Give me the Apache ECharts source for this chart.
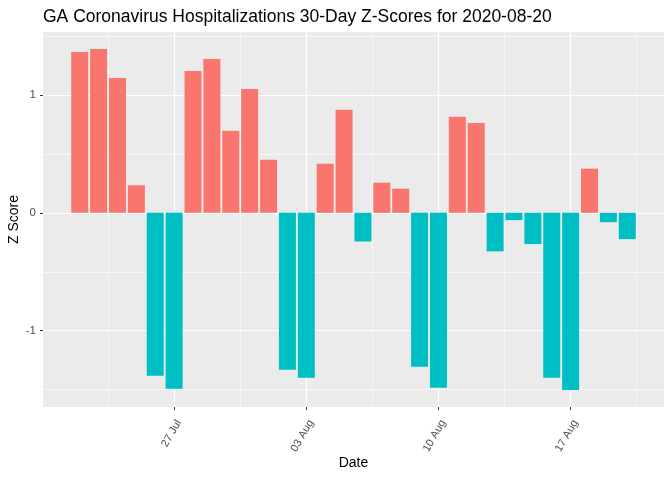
<!DOCTYPE html>
<html>
<head>
<meta charset="utf-8">
<script src="https://cdn.jsdelivr.net/npm/echarts@6/dist/echarts.min.js"></script>
<style>html,body{margin:0;padding:0;background:#fff;}#c{width:672px;height:480px;}</style>
</head>
<body>
<div id="c"></div>
<script>
// Dates and z-scores
const dates = ['2020-07-22','2020-07-23','2020-07-24','2020-07-25','2020-07-26','2020-07-27','2020-07-28','2020-07-29','2020-07-30','2020-07-31',
  '2020-08-01','2020-08-02','2020-08-03','2020-08-04','2020-08-05','2020-08-06','2020-08-07','2020-08-08','2020-08-09','2020-08-10',
  '2020-08-11','2020-08-12','2020-08-13','2020-08-14','2020-08-15','2020-08-16','2020-08-17','2020-08-18','2020-08-19','2020-08-20'];
const zScores = [1.365,1.39,1.145,0.234,-1.382,-1.492,1.204,1.305,0.696,1.052,
  0.451,-1.331,-1.399,0.417,0.874,-0.243,0.256,0.205,-1.306,-1.484,
  0.815,0.763,-0.327,-0.062,-0.265,-1.399,-1.503,0.375,-0.079,-0.223];
const xTickDates = ['2020-07-27','2020-08-03','2020-08-10','2020-08-17'];
const xTickLabels = ['27 Jul','03 Aug','10 Aug','17 Aug'];
const yMajor = [-1, 0, 1];
const yMinor = [-1.5, -0.5, 0.5, 1.5];

const ref = Date.UTC(2020, 6, 27);
const dayOf = s => { const p = s.split('-'); return (Date.UTC(+p[0], +p[1]-1, +p[2]) - ref) / 86400000; };
const xDays = dates.map(dayOf);
const xMajor = xTickDates.map(dayOf);
const xMinor = [];
for (let i = 0; i <= xMajor.length; i++) xMinor.push((i === 0 ? xMajor[0] - 7 : xMajor[i-1]) + 3.5);

const span = xDays[xDays.length-1] - xDays[0] + 0.9;
const xMin = xDays[0] - 0.45 - 0.05 * span;
const xMax = xDays[xDays.length-1] + 0.45 + 0.05 * span;
const yLo = Math.min(...zScores), yHi = Math.max(...zScores);
const yMin = yLo - 0.05 * (yHi - yLo), yMax = yHi + 0.05 * (yHi - yLo);

const font = 'Liberation Sans, Arial, sans-serif';
const chart = echarts.init(document.getElementById('c'), null, {renderer: 'canvas'});
chart.setOption({
  animation: false,
  backgroundColor: '#ffffff',
  title: {
    text: 'GA Coronavirus Hospitalizations 30-Day Z-Scores for 2020-08-20',
    left: 38, top: 3,
    textStyle: {fontFamily: font, fontSize: 17.5, fontWeight: 'normal', color: '#000'}
  },
  grid: {left: 43, right: 8, top: 32, bottom: 73, show: true, backgroundColor: '#EBEBEB', borderWidth: 0,
    containLabel: false, outerBoundsMode: 'none'},
  xAxis: [{
    type: 'value', min: xMin, max: xMax,
    name: 'Date', nameLocation: 'middle', nameGap: 49, nameMoveOverlap: false,
    nameTextStyle: {fontFamily: font, fontSize: 14, color: '#000'},
    axisLine: {show: false, onZero: false},
    axisTick: {show: true, customValues: xMajor, length: 3, lineStyle: {color: '#333', width: 1}},
    axisLabel: {customValues: xMajor, rotate: 60, margin: 11, verticalAlign: 'top', color: '#4D4D4D', fontFamily: font, fontSize: 11,
      formatter: v => { const i = xMajor.indexOf(v); return i >= 0 ? xTickLabels[i] : ''; }},
    splitLine: {show: true, lineStyle: {color: '#fff', width: 1.2}}
  }, {
    type: 'value', min: xMin, max: xMax, position: 'bottom',
    axisLine: {show: false, onZero: false}, axisLabel: {show: false},
    axisTick: {show: false, customValues: xMinor},
    splitLine: {show: true, lineStyle: {color: '#fff', width: 0.6}}
  }],
  yAxis: [{
    type: 'value', min: yMin, max: yMax,
    name: 'Z Score', nameLocation: 'middle', nameGap: 22, nameRotate: 90, nameMoveOverlap: false,
    nameTextStyle: {fontFamily: font, fontSize: 14, color: '#000'},
    axisLine: {show: false, onZero: false},
    axisTick: {show: true, customValues: yMajor, length: 3, lineStyle: {color: '#333', width: 1}},
    axisLabel: {customValues: yMajor, margin: 7, color: '#4D4D4D', fontFamily: font, fontSize: 11.5,
      formatter: v => String(v)},
    splitLine: {show: true, lineStyle: {color: '#fff', width: 1.2}}
  }, {
    type: 'value', min: yMin, max: yMax, position: 'left',
    axisLine: {show: false, onZero: false}, axisLabel: {show: false},
    axisTick: {show: false, customValues: yMinor},
    splitLine: {show: true, lineStyle: {color: '#fff', width: 0.6}}
  }],
  series: [{
    type: 'bar',
    xAxisIndex: 0, yAxisIndex: 0,
    barWidth: 17,
    data: xDays.map((x, i) => ({value: [x, zScores[i]], itemStyle: {color: zScores[i] >= 0 ? '#F8766D' : '#00BFC4'}}))
  }]
});
</script>
</body>
</html>
